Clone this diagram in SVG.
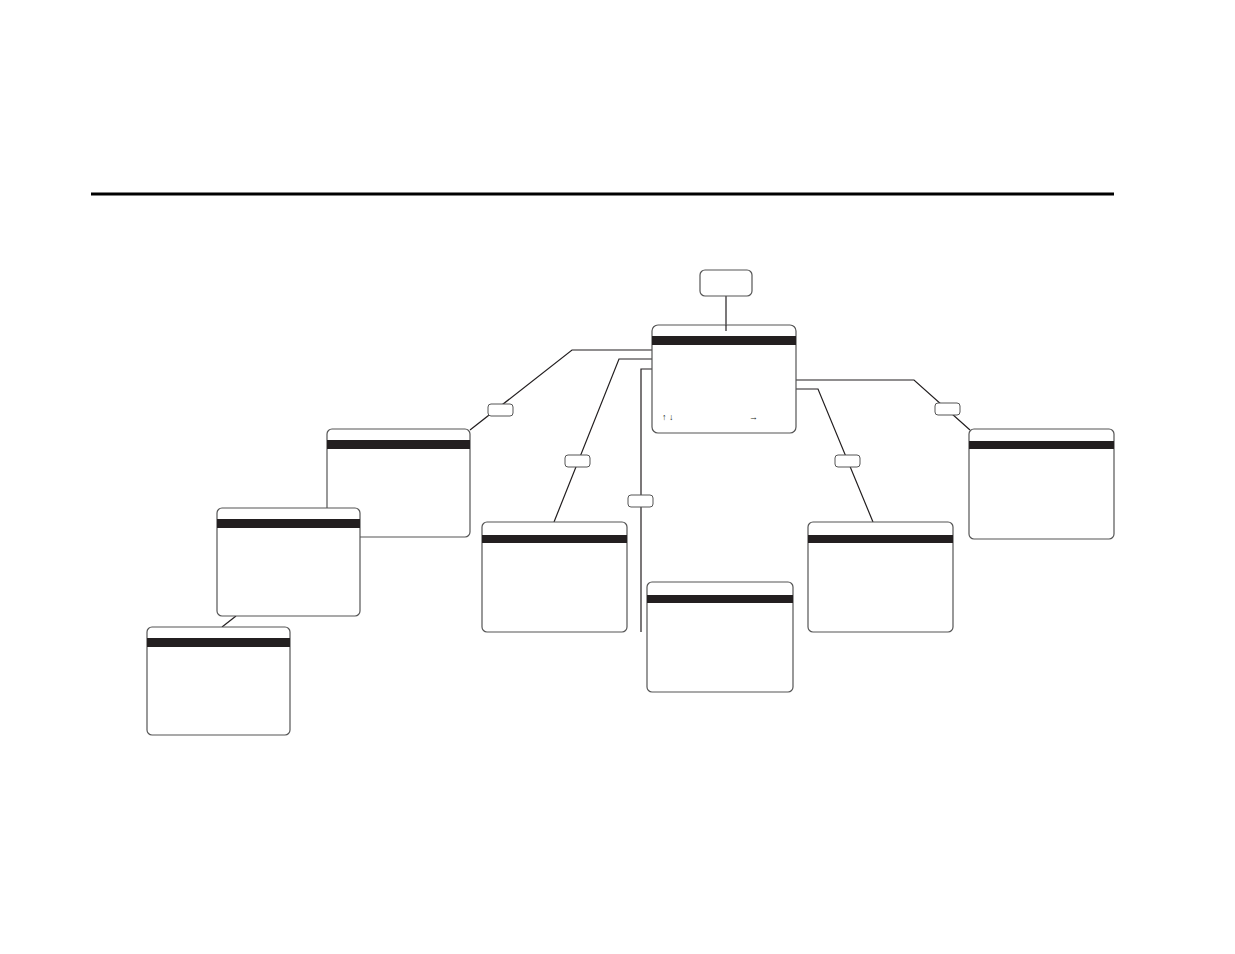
<svg xmlns="http://www.w3.org/2000/svg" width="1235" height="954" viewBox="0 0 1235 954">
<style>
.p{fill:#fff;stroke:#555;stroke-width:1.2}
.b{fill:#231f20}
.l{fill:#fff;stroke:#555;stroke-width:1}
.c{fill:none;stroke:#231f20;stroke-width:1.2}
.t{font-family:"Liberation Sans",sans-serif;font-size:9px;fill:#231f20}
</style>
<rect x="0" y="0" width="1235" height="954" fill="#fff"/>
<rect x="91" y="192.5" width="1023" height="3" fill="#000"/>
<g id="connectors">
<path class="c" d="M726 296V331"/>
<path class="c" d="M661 350H572L470 430"/>
<path class="c" d="M660 359H619L554 522"/>
<path class="c" d="M658 369H641V632"/>
<path class="c" d="M740 380H914L970 430"/>
<path class="c" d="M743 389H818L873 522"/>
<path class="c" d="M236 616L222 627"/>
</g>
<g id="start"><rect class="p" x="700" y="270" width="52" height="26" rx="5" stroke="#231f20" stroke-width="1.5"/></g>
<g id="main">
<rect class="p" x="652" y="325" width="144" height="108" rx="6"/>
<rect class="b" x="652" y="336" width="144" height="9"/>
<path class="c" d="M726 325V331"/>
<text class="t" x="662" y="420">↑ ↓</text>
<text class="t" x="749" y="420">→</text>
</g>
<g id="box1"><rect class="p" x="327" y="429" width="143" height="108" rx="5"/><rect class="b" x="327" y="440" width="143" height="9"/></g>
<g id="box2"><rect class="p" x="217" y="508" width="143" height="108" rx="5"/><rect class="b" x="217" y="519" width="143" height="9"/></g>
<g id="box3"><rect class="p" x="147" y="627" width="143" height="108" rx="5"/><rect class="b" x="147" y="638" width="143" height="9"/></g>
<g id="box4"><rect class="p" x="482" y="522" width="145" height="110" rx="5"/><rect class="b" x="482" y="535" width="145" height="8"/></g>
<g id="box5"><rect class="p" x="647" y="582" width="146" height="110" rx="5"/><rect class="b" x="647" y="595" width="146" height="8"/></g>
<g id="box6"><rect class="p" x="969" y="429" width="145" height="110" rx="5"/><rect class="b" x="969" y="441" width="145" height="8"/></g>
<g id="box7"><rect class="p" x="808" y="522" width="145" height="110" rx="5"/><rect class="b" x="808" y="535" width="145" height="8"/></g>
<g id="tags">
<rect class="l" x="488" y="404" width="25" height="12" rx="3"/>
<rect class="l" x="565" y="455" width="25" height="12" rx="3"/>
<rect class="l" x="628" y="495" width="25" height="12" rx="3"/>
<rect class="l" x="935" y="403" width="25" height="12" rx="3"/>
<rect class="l" x="835" y="455" width="25" height="12" rx="3"/>
</g>
</svg>
